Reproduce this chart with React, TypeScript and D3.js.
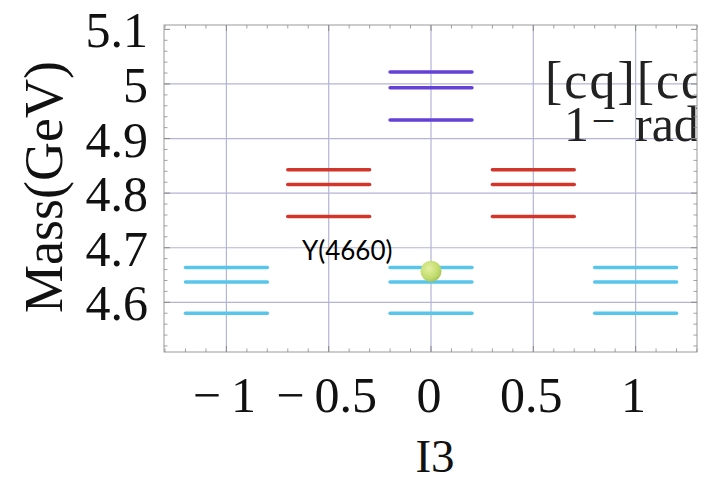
import React from "react";
import * as d3 from "d3";

// ---- data ----
const groupI3 = [-1, -0.5, 0, 0, 0.5, 1];
const groupColors = ["#58c5eb", "#d2352b", "#6440d6", "#58c5eb", "#d2352b", "#58c5eb"];
const groupMasses = [
  [4.664, 4.637, 4.58],
  [4.843, 4.816, 4.757],
  [5.022, 4.993, 4.934],
  [4.664, 4.637, 4.58],
  [4.843, 4.816, 4.757],
  [4.664, 4.637, 4.58],
];
const pointI3 = [0];
const pointMass = [4.657];
const pointLabel = "Y(4660)";
const xTickValues = [-1, -0.5, 0, 0.5, 1];
const xTickLabels = ["\u2212\u20091", "\u2212\u20090.5", "0", "0.5", "1"];
const yTickValues = [4.6, 4.7, 4.8, 4.9, 5.0, 5.1];
const yTickLabels = ["4.6", "4.7", "4.8", "4.9", "5", "5.1"];
const yGridValues = [4.6, 4.7, 4.8, 4.9, 5.0];
const xLabel = "I3";
const yLabel = "Mass(GeV)";
const noteLine1 = "[cq][cq]";
const noteLine2a = "1";
const noteLine2sup = "\u2013";
const noteLine2b = "radial";

const W = 706;
const H = 480;
const L = 164, R = 697, T = 25, B = 352;
const halfWidth = 0.2;

export default function App() {
  const x = d3.scaleLinear().domain([-1.305, 1.3]).range([L, R]);
  const y = d3.scaleLinear().domain([4.509, 5.108]).range([B, T]);
  const minorX = d3.range(-13, 14).map((k) => k / 10);
  const minorY = d3.range(226, 256).map((k) => k / 50).filter((v) => v >= 4.509 && v <= 5.108);
  const serif = "'Liberation Serif', 'Times New Roman', serif";
  const tickCol = "#8a8a8a";
  const gridCol = "#b4b4d6";

  return (
    <svg width={W} height={H} style={{ position: "absolute", left: 0, top: 0, background: "#fff" }}>
      <defs>
        <clipPath id="plotclip">
          <rect x={L} y={T} width={R - L} height={B - T} />
        </clipPath>
        <radialGradient id="ballg" cx="40%" cy="38%" r="65%">
          <stop offset="0%" stopColor="#e4f0a0" />
          <stop offset="70%" stopColor="#c2dc6e" />
          <stop offset="100%" stopColor="#a6c452" />
        </radialGradient>
      </defs>
      <rect x={0} y={0} width={W} height={H} fill="#fff" />
      {/* grid */}
      {xTickValues.map((v) => (
        <line key={"gx" + v} x1={x(v)} x2={x(v)} y1={T} y2={B} stroke={gridCol} strokeWidth={1.2} />
      ))}
      {yGridValues.map((v) => (
        <line key={"gy" + v} x1={L} x2={R} y1={y(v)} y2={y(v)} stroke={gridCol} strokeWidth={1.2} />
      ))}
      {/* levels */}
      {groupI3.map((i3, i) =>
        groupMasses[i].map((m, j) => (
          <line
            key={`lv${i}-${j}`}
            x1={x(i3 - halfWidth)}
            x2={x(i3 + halfWidth)}
            y1={y(m)}
            y2={y(m)}
            stroke={groupColors[i]}
            strokeWidth={3.5}
            strokeLinecap="round"
          />
        ))
      )}
      {/* point */}
      {pointI3.map((p, i) => (
        <circle key={"pt" + i} cx={x(p)} cy={y(pointMass[i])} r={10.5} fill="url(#ballg)" />
      ))}
      <text x={302} y={260} fontFamily="Lato, 'Open Sans', sans-serif" fontSize={26} fill="#000">
        {pointLabel}
      </text>
      {/* note text, clipped */}
      <g clipPath="url(#plotclip)" fontFamily={serif} fill="#222">
        <text x={545} y={98} fontSize={52} letterSpacing={2}>{noteLine1}</text>
        <text x={564} y={141} fontSize={50}>{noteLine2a}</text>
        <text x={635} y={141} fontSize={50}>{noteLine2b}</text>
      </g>
      <text x={594} y={130} fontFamily={serif} fontSize={38} fill="#222">{noteLine2sup}</text>
      {/* frame */}
      <rect x={L} y={T} width={R - L} height={B - T} fill="none" stroke="#9a9a9a" strokeWidth={1} />
      {/* ticks */}
      {minorX.map((v) => {
        const major = xTickValues.some((t) => Math.abs(t - v) < 1e-6);
        const len = major ? 6 : 3.5;
        return (
          <g key={"tx" + v} stroke={tickCol} strokeWidth={major ? 1 : 0.8}>
            <line x1={x(v)} x2={x(v)} y1={B} y2={B - len} />
            <line x1={x(v)} x2={x(v)} y1={T} y2={T + len} />
          </g>
        );
      })}
      {minorY.map((v) => {
        const major = yTickValues.some((t) => Math.abs(t - v) < 1e-6);
        const len = major ? 6 : 3.5;
        return (
          <g key={"ty" + v} stroke={tickCol} strokeWidth={major ? 1 : 0.8}>
            <line x1={L} x2={L + len} y1={y(v)} y2={y(v)} />
            <line x1={R} x2={R - len} y1={y(v)} y2={y(v)} />
          </g>
        );
      })}
      {/* tick labels */}
      {xTickValues.map((v, i) => (
        <text key={"xl" + v} x={x(v) - 2} y={412} textAnchor="middle" fontFamily={serif} fontSize={50} fill="#111">
          {xTickLabels[i]}
        </text>
      ))}
      {yTickValues.map((v, i) => (
        <text key={"yl" + v} x={148} y={y(v)} dy="0.36em" textAnchor="end" fontFamily={serif} fontSize={50} fill="#111">
          {yTickLabels[i]}
        </text>
      ))}
      {/* axis labels */}
      <text x={435} y={472} textAnchor="middle" fontFamily={serif} fontSize={47} fill="#111">
        {xLabel}
      </text>
      <text
        transform={`translate(62,187) rotate(-90)`}
        textAnchor="middle"
        fontFamily={serif}
        fontSize={54}
        fill="#111"
      >
        {yLabel}
      </text>
    </svg>
  );
}
